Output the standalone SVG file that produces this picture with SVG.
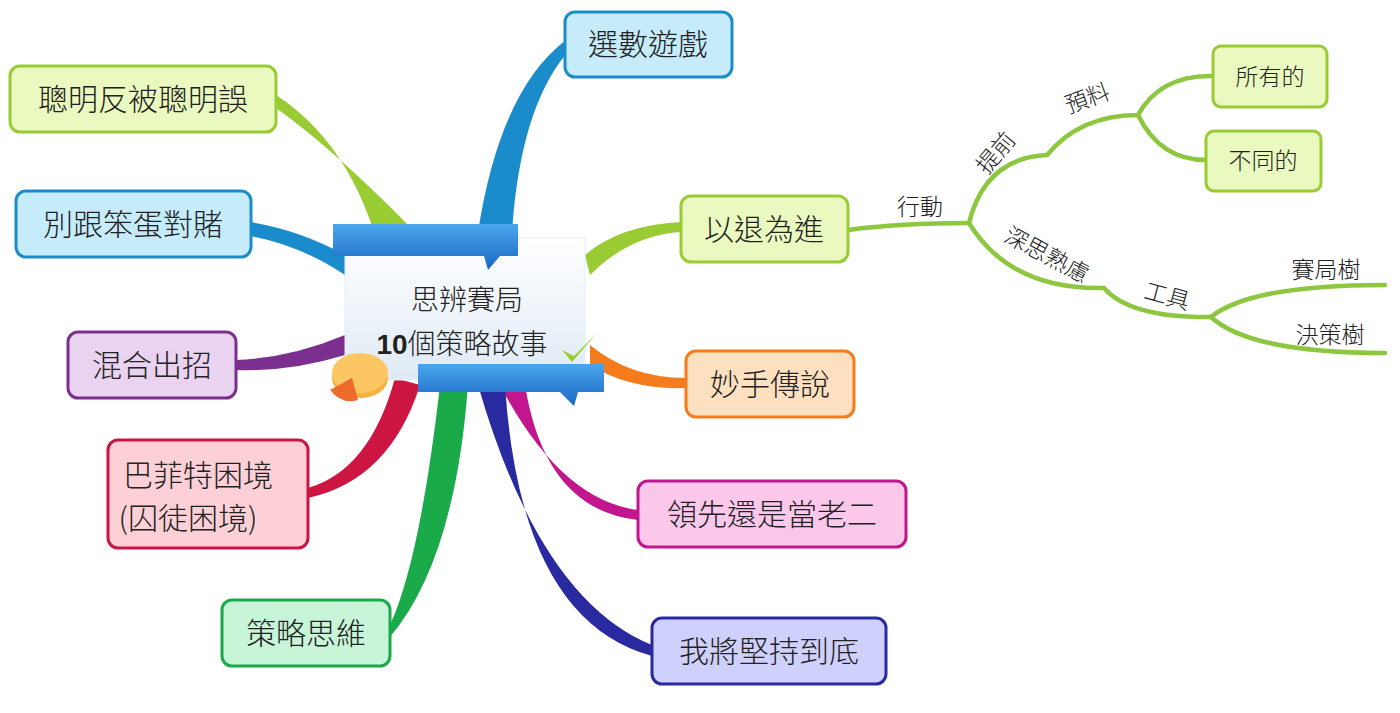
<svg xmlns="http://www.w3.org/2000/svg" width="1400" height="713" viewBox="0 0 1400 713">
<defs>
<style>
text{font-family:"Noto Sans CJK TC","Liberation Sans",sans-serif;fill:#222;font-weight:300}
.n{font-size:30px;text-anchor:middle}
.s{font-size:23px;text-anchor:middle}
.sub{fill:none;stroke:#8dc63f;stroke-width:4.5;stroke-linecap:round}
rect.box{stroke-width:3}
</style>
<linearGradient id="card" x1="0" y1="0" x2="0" y2="1"><stop offset="0" stop-color="#ffffff"/><stop offset="1" stop-color="#dfeaf5"/></linearGradient>
<linearGradient id="rib" x1="0" y1="0" x2="0" y2="1"><stop offset="0" stop-color="#4aa6ec"/><stop offset="1" stop-color="#1a66c4"/></linearGradient>
</defs>
<rect width="1400" height="713" fill="#fff"/>
<g id="connectors">
<path d="M478,232 Q500,90 566,40 L566,54 Q520,110 512,232 Z" fill="#1a8ccc"/>
<path d="M375,235 Q345,140 276,95 L276,108 Q335,150 415,232 Z" fill="#99cc33"/>
<path d="M250,222 Q300,230 345,255 L345,275 Q300,245 250,236 Z" fill="#1a8ccc"/>
<path d="M585,255 Q620,225 681,222 L681,232 Q630,235 590,275 Z" fill="#99cc33"/>
<path d="M236,360 Q290,358 345,335 L345,355 Q290,372 236,370 Z" fill="#7b2f8e"/>
<path d="M590,345 Q630,378 686,378 L686,388 Q630,390 590,365 Z" fill="#f57c1c"/>
<path d="M395,378 Q370,470 308,488 L308,498 Q390,480 420,385 Z" fill="#cc1540"/>
<path d="M500,385 Q560,500 638,510 L638,520 Q545,510 525,385 Z" fill="#c2168f"/>
<path d="M440,385 Q420,560 390,625 L390,637 Q455,560 468,385 Z" fill="#1aaa4a"/>
<path d="M478,385 Q540,600 652,645 L652,656 Q520,620 505,385 Z" fill="#2a2aa0"/>
<path class="sub" d="M848,230 Q900,223 969,223"/>
<path class="sub" d="M969,223 Q985,158 1047,155 Q1080,115 1138,115"/>
<path class="sub" d="M1138,115 Q1160,75 1213,76"/>
<path class="sub" d="M1138,115 Q1160,160 1206,160"/>
<path class="sub" d="M969,223 Q1010,290 1104,288 Q1130,318 1211,317"/>
<path class="sub" d="M1211,317 Q1250,285 1385,285" stroke-width="3"/>
<path class="sub" d="M1211,317 Q1250,353 1385,353" stroke-width="3"/>
</g>
<g id="labels">
<text class="s" x="920" y="215">行動</text>
<text class="s" transform="translate(1002,158) rotate(-50)">提前</text>
<text class="s" transform="translate(1090,106) rotate(-20)">預料</text>
<text class="s" transform="translate(1043,262) rotate(28)">深思熟慮</text>
<text class="s" transform="translate(1165,304) rotate(15)">工具</text>
<text class="s" x="1326" y="278">賽局樹</text>
<text class="s" x="1330" y="343">決策樹</text>
</g>
<g id="center">
<rect x="345" y="238" width="240" height="142" fill="url(#card)" stroke="#e6eef6"/>
<path d="M333,224 H518 V256 H500 L488,270 L484,256 H333 Z" fill="url(#rib)"/>
<path d="M418,364 H604 V392 H578 L574,406 L560,392 H418 Z" fill="url(#rib)"/>
<text x="467" y="310" style="font-size:28px;text-anchor:middle">思辨賽局</text>
<text x="462" y="354" style="font-size:28px;text-anchor:middle"><tspan font-weight="bold" font-family="Liberation Sans">10</tspan>個策略故事</text>
<ellipse cx="360" cy="378" rx="28" ry="20" fill="#f6b23e"/>
<ellipse cx="360" cy="373" rx="28" ry="20" fill="#fcc763"/>
<path d="M352,378 L330,390 Q342,405 358,400 Z" fill="#ee6a2c"/>
<path d="M562,350 L572,362 L596,334 L574,356 Z" fill="#99cc33"/>
</g>
<g id="n1"><rect class="box" x="565" y="12" width="167" height="65" rx="10" fill="#c6ecfb" stroke="#1a8ccc"/><text class="n" x="648" y="55">選數遊戲</text></g>
<g id="n2"><rect class="box" x="10" y="66" width="266" height="66" rx="10" fill="#eaf9c0" stroke="#99cc33"/><text class="n" x="143" y="110">聰明反被聰明誤</text></g>
<g id="n3"><rect class="box" x="16" y="191" width="235" height="66" rx="10" fill="#c6ecfb" stroke="#1a8ccc"/><text class="n" x="133" y="235">別跟笨蛋對賭</text></g>
<g id="n4"><rect class="box" x="681" y="196" width="167" height="66" rx="10" fill="#eaf9c0" stroke="#99cc33"/><text class="n" x="764" y="240">以退為進</text></g>
<g id="n5"><rect class="box" x="68" y="332" width="168" height="66" rx="10" fill="#e9d3f0" stroke="#7b2f8e"/><text class="n" x="152" y="376">混合出招</text></g>
<g id="n6"><rect class="box" x="686" y="351" width="168" height="66" rx="10" fill="#fde0bf" stroke="#f57c1c"/><text class="n" x="770" y="395">妙手傳說</text></g>
<g id="n7"><rect class="box" x="108" y="440" width="200" height="108" rx="10" fill="#fdd0d8" stroke="#cc1540"/><text class="n" x="198" y="486">巴菲特困境</text><text class="n" x="188" y="529">(囚徒困境)</text></g>
<g id="n8"><rect class="box" x="638" y="481" width="268" height="66" rx="10" fill="#fbc8ec" stroke="#c2168f"/><text class="n" x="772" y="525">領先還是當老二</text></g>
<g id="n9"><rect class="box" x="222" y="600" width="168" height="66" rx="10" fill="#c8f5d8" stroke="#1aaa4a"/><text class="n" x="306" y="644">策略思維</text></g>
<g id="n10"><rect class="box" x="652" y="618" width="234" height="66" rx="10" fill="#cfd0fb" stroke="#2a2aa0"/><text class="n" x="769" y="662">我將堅持到底</text></g>
<g id="n11"><rect class="box" x="1213" y="46" width="114" height="61" rx="8" fill="#eaf9c0" stroke="#99cc33"/><text class="s" x="1270" y="85">所有的</text></g>
<g id="n12"><rect class="box" x="1206" y="131" width="115" height="60" rx="8" fill="#eaf9c0" stroke="#99cc33"/><text class="s" x="1263" y="169">不同的</text></g>
</svg>
